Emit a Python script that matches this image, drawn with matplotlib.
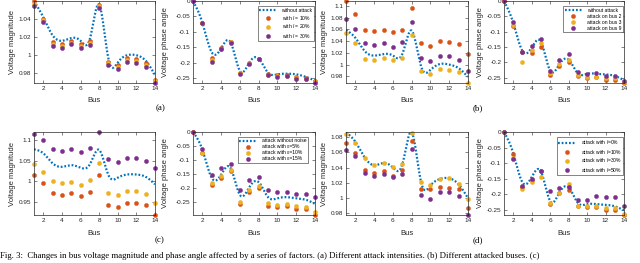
import numpy as np
import matplotlib
matplotlib.use('Agg')
import matplotlib.pyplot as plt
from matplotlib.ticker import FormatStrFormatter

plt.rcParams['axes.unicode_minus'] = False
plt.rcParams['font.family'] = ['Liberation Sans', 'DejaVu Sans']
plt.rcParams['mathtext.fontset'] = 'custom'
plt.rcParams['mathtext.it'] = 'Liberation Sans:italic'
plt.rcParams['mathtext.rm'] = 'Liberation Sans'

buses = list(range(1, 15))
xticks = [2, 4, 6, 8, 10, 12, 14]

# ---------------- (a) attack intensity ----------------
a_mag_base = [1.060, 1.042, 1.022, 1.016, 1.019, 1.016, 1.018, 1.056, 0.996, 0.992, 1.000, 1.000, 0.994, 0.978]
a_mag_l10 = [1.060, 1.0406, 1.015, 1.0124, 1.0154, 1.0124, 1.0154, 1.0556, 0.993, 0.9887, 0.997, 0.996, 0.9916, 0.973]
a_mag_l20 = [1.057, 1.039, 1.0125, 1.010, 1.0138, 1.010, 1.0135, 1.054, 0.991, 0.9865, 0.9947, 0.994, 0.989, 0.971]
a_mag_l30 = [1.0545, 1.0373, 1.0099, 1.0077, 1.0121, 1.008, 1.0113, 1.052, 0.9894, 0.9843, 0.9923, 0.9916, 0.9868, 0.9693]

a_ph_base = [0, -0.070, -0.166, -0.153, -0.133, -0.226, -0.199, -0.186, -0.232, -0.237, -0.235, -0.237, -0.245, -0.257]
a_ph_l10 = [0, -0.071, -0.184, -0.153, -0.131, -0.232, -0.199, -0.186, -0.237, -0.240, -0.240, -0.247, -0.250, -0.259]
a_ph_l20 = [0, -0.071, -0.191, -0.154, -0.133, -0.234, -0.200, -0.187, -0.238, -0.242, -0.241, -0.249, -0.251, -0.262]
a_ph_l30 = [0, -0.071, -0.197, -0.155, -0.135, -0.237, -0.202, -0.189, -0.240, -0.245, -0.243, -0.252, -0.252, -0.265]
a_labels = ['without attack', 'with $l$ = 10%', 'with $l$ = 20%', 'with $l$ = 30%']

# ---------------- (b) attacked bus ----------------
b_mag_base = [1.059, 1.0457, 1.023, 1.0154, 1.018, 1.0154, 1.018, 1.058, 0.997, 0.991, 1.001, 1.000, 0.994, 0.979]
b_mag_bus2 = [1.1086, 1.0869, 1.0589, 1.0571, 1.0589, 1.0554, 1.0583, 1.0971, 1.0371, 1.0326, 1.040, 1.0389, 1.0354, 1.0183]
b_mag_bus3 = [1.0543, 1.0371, 1.0097, 1.0074, 1.0114, 1.0074, 1.0114, 1.0514, 0.9897, 0.9846, 0.992, 0.9914, 0.9869, 0.9686]
b_mag_bus9 = [1.0771, 1.0611, 1.0371, 1.0343, 1.0377, 1.0309, 1.0389, 1.0726, 1.0114, 1.0057, 1.0143, 1.0143, 1.0086, 0.9886]

b_ph_base = [0, -0.071, -0.163, -0.152, -0.133, -0.227, -0.206, -0.191, -0.236, -0.237, -0.237, -0.239, -0.244, -0.258]
b_ph_bus2 = [0, -0.082, -0.166, -0.169, -0.149, -0.241, -0.213, -0.199, -0.244, -0.250, -0.249, -0.256, -0.256, -0.267]
b_ph_bus3 = [0, -0.078, -0.197, -0.161, -0.136, -0.236, -0.206, -0.191, -0.241, -0.247, -0.247, -0.252, -0.252, -0.263]
b_ph_bus9 = [0, -0.067, -0.166, -0.147, -0.124, -0.227, -0.191, -0.174, -0.232, -0.239, -0.236, -0.243, -0.244, -0.260]
b_labels = ['without attack', 'attack on bus 2', 'attack on bus 3', 'attack on bus 9']

# ---------------- (c) noise ----------------
c_mag_base = [1.077, 1.0676, 1.0433, 1.035, 1.039, 1.033, 1.041, 1.0757, 1.015, 1.009, 1.0165, 1.0165, 1.011, 0.993]
c_mag_e5 = [1.0149, 0.9971, 0.9728, 0.9679, 0.9722, 0.9647, 0.9744, 1.0165, 0.9444, 0.9379, 0.9485, 0.9485, 0.9436, 0.9193]
c_mag_e10 = [1.0408, 1.023, 1.0003, 0.9963, 0.9995, 0.9922, 1.0028, 1.0433, 0.9728, 0.9663, 0.976, 0.976, 0.970, 0.9477]
c_mag_e15 = [1.1146, 1.100, 1.0781, 1.074, 1.077, 1.0716, 1.0797, 1.1186, 1.053, 1.0473, 1.0554, 1.0554, 1.0498, 1.0327]

c_ph_base = [0, -0.064, -0.165, -0.153, -0.129, -0.226, -0.198, -0.180, -0.234, -0.238, -0.234, -0.238, -0.243, -0.258]
c_ph_e5 = [0, -0.076, -0.192, -0.164, -0.141, -0.258, -0.216, -0.201, -0.265, -0.271, -0.267, -0.277, -0.277, -0.298]
c_ph_e10 = [0, -0.074, -0.183, -0.158, -0.137, -0.250, -0.208, -0.194, -0.255, -0.261, -0.259, -0.267, -0.268, -0.289]
c_ph_e15 = [0, -0.061, -0.153, -0.131, -0.115, -0.208, -0.171, -0.161, -0.210, -0.216, -0.214, -0.222, -0.222, -0.234]
c_labels = ['attack without noise', 'attack with ε=5%', 'attack with ε=10%', 'attack with ε=15%']

# ---------------- (d) attack proportion ----------------
d_mag_base = [1.086, 1.0736, 1.053, 1.043, 1.046, 1.040, 1.044, 1.086, 1.021, 1.0165, 1.025, 1.026, 1.018, 1.000]
d_mag_l10 = [1.0727, 1.0586, 1.0364, 1.0327, 1.036, 1.0295, 1.0373, 1.075, 1.0123, 1.0114, 1.0145, 1.0136, 1.0123, 0.9873]
d_mag_l30 = [1.084, 1.0727, 1.052, 1.0427, 1.0464, 1.041, 1.045, 1.085, 1.0214, 1.0177, 1.025, 1.026, 1.019, 0.9995]
d_mag_l50 = [1.0632, 1.0555, 1.0327, 1.0295, 1.0314, 1.0282, 1.0314, 1.0645, 1.004, 0.9995, 1.0086, 1.0077, 1.0023, 0.978]

d_ph_base = [0, -0.068, -0.162, -0.145, -0.127, -0.222, -0.195, -0.178, -0.228, -0.232, -0.232, -0.234, -0.239, -0.252]
d_ph_l10 = [0, -0.072, -0.178, -0.156, -0.127, -0.233, -0.195, -0.186, -0.237, -0.242, -0.242, -0.250, -0.250, -0.267]
d_ph_l30 = [0, -0.085, -0.184, -0.160, -0.145, -0.228, -0.195, -0.167, -0.237, -0.239, -0.239, -0.244, -0.244, -0.263]
d_ph_l50 = [0, -0.088, -0.173, -0.151, -0.126, -0.189, -0.180, -0.176, -0.219, -0.220, -0.206, -0.208, -0.208, -0.237]
d_labels = ['attack with $l$=0%', 'attack with $l$=10%', 'attack with $l$=30%', 'attack with $l$=50%']

panel_labels = ['(a)', '(b)', '(c)', '(d)']
caption = ("Fig. 3:  Changes in bus voltage magnitude and phase angle affected by a series of factors. "
           "(a) Different attack intensities. (b) Different attacked buses. (c)")

C_LINE = '#0072BD'
C_MARK = ['#D95319', '#EDB120', '#7E2F8E']


def natural_spline(x, y, n=300):
    x = np.asarray(x, float)
    y = np.asarray(y, float)
    N = len(x)
    h = np.diff(x)
    A = np.zeros((N, N))
    rhs = np.zeros(N)
    A[0, 0] = 1
    A[-1, -1] = 1
    for i in range(1, N - 1):
        A[i, i - 1] = h[i - 1]
        A[i, i] = 2 * (h[i - 1] + h[i])
        A[i, i + 1] = h[i]
        rhs[i] = 3 * ((y[i + 1] - y[i]) / h[i] - (y[i] - y[i - 1]) / h[i - 1])
    c = np.linalg.solve(A, rhs)
    b = (y[1:] - y[:-1]) / h - h * (2 * c[:-1] + c[1:]) / 3
    d = (c[1:] - c[:-1]) / (3 * h)
    xs = np.linspace(x[0], x[-1], n)
    idx = np.clip(np.searchsorted(x, xs, side='right') - 1, 0, N - 2)
    dx = xs - x[idx]
    ys = y[idx] + b[idx] * dx + c[idx] * dx ** 2 + d[idx] * dx ** 3
    return xs, ys


W, H = 640, 263
fig = plt.figure(figsize=(W / 100, H / 100), dpi=100)


def add_ax(l, t, r, b):
    return fig.add_axes([l / W, 1 - b / H, (r - l) / W, (b - t) / H])


def draw(ax, base, series, ylabel, yticks, fmt, labx, legend=None, leg_anchor=None):
    xs, ys = natural_spline(buses, base)
    ax.plot(xs, ys, color=C_LINE, lw=1.6, linestyle=(0, (0.8, 0.85)), dash_capstyle='butt')
    for s, col in zip(series, C_MARK):
        ax.plot(buses, s, linestyle='none', marker='o', ms=3.0, mfc=col, mec=col, mew=0.3,
                clip_on=False)
    ax.margins(x=0, y=0)
    ax.set_xlim(1, 14)
    ax.set_xticks(xticks)
    ax.set_yticks(yticks)
    ax.yaxis.set_major_formatter(FormatStrFormatter(fmt))
    ax.tick_params(direction='in', length=2, width=0.4, labelsize=4.6, colors='#262626', pad=2,
                   top=True, right=True)
    for sp in ax.spines.values():
        sp.set_linewidth(0.5)
        sp.set_color('#262626')
    ax.set_xlabel('Bus', fontsize=5.5, color='#262626')
    ax.xaxis.set_label_coords(0.5, -0.175)
    ax.set_ylabel(ylabel, fontsize=5.5, color='#262626')
    ax.yaxis.set_label_coords(labx, 0.5)
    if legend is not None:
        leg = ax.legend(legend, loc='upper right', bbox_to_anchor=leg_anchor,
                        bbox_transform=fig.transFigure, fontsize=3.6, frameon=True,
                        fancybox=False, edgecolor='#262626', framealpha=1,
                        handlelength=3.5, handletextpad=1.0, labelspacing=0.2,
                        borderpad=0.3, borderaxespad=0, markerscale=1.0, handleheight=0.5)
        leg.get_frame().set_linewidth(0.4)


cols = [(34, 155), (193, 315), (346, 468), (504, 624)]
row1 = (1, 83)
row2 = (132, 215)

mag_ticks_a = [0.98, 1.0, 1.02, 1.04]
ph_ticks = [-0.25, -0.2, -0.15, -0.1, -0.05, 0]

ax = add_ax(cols[0][0], row1[0], cols[0][1], row1[1])
draw(ax, a_mag_base, [a_mag_l10, a_mag_l20, a_mag_l30], 'Voltage magnitude',
     mag_ticks_a, '%g', -0.15)
ax = add_ax(cols[1][0], row1[0], cols[1][1], row1[1])
draw(ax, a_ph_base, [a_ph_l10, a_ph_l20, a_ph_l30], 'Voltage phase angle', ph_ticks, '%g', -0.2,
     a_labels, (314 / W, 1 - 6 / H))
ax = add_ax(cols[2][0], row1[0], cols[2][1], row1[1])
draw(ax, b_mag_base, [b_mag_bus2, b_mag_bus3, b_mag_bus9], 'Voltage magnitude',
     [0.98, 1.0, 1.02, 1.04, 1.06, 1.08, 1.1], '%g', -0.15)
ax = add_ax(cols[3][0], row1[0], cols[3][1], row1[1])
draw(ax, b_ph_base, [b_ph_bus2, b_ph_bus3, b_ph_bus9], 'Voltage phase angle', ph_ticks, '%g', -0.17,
     b_labels, (623 / W, 1 - 6 / H))

ax = add_ax(cols[0][0], row2[0], cols[0][1], row2[1])
draw(ax, c_mag_base, [c_mag_e5, c_mag_e10, c_mag_e15], 'Voltage magnitude',
     [0.95, 1.0, 1.05, 1.1], '%g', -0.15)
ax = add_ax(cols[1][0], row2[0], cols[1][1], row2[1])
draw(ax, c_ph_base, [c_ph_e5, c_ph_e10, c_ph_e15], 'Voltage phase angle', ph_ticks, '%g', -0.2,
     c_labels, (308 / W, 1 - 137 / H))
ax = add_ax(cols[2][0], row2[0], cols[2][1], row2[1])
draw(ax, d_mag_base, [d_mag_l10, d_mag_l30, d_mag_l50], 'Voltage magnitude',
     [0.98, 1.0, 1.02, 1.04, 1.06, 1.08], '%g', -0.15)
ax = add_ax(cols[3][0], row2[0], cols[3][1], row2[1])
draw(ax, d_ph_base, [d_ph_l10, d_ph_l30, d_ph_l50], 'Voltage phase angle', ph_ticks, '%g', -0.17,
     d_labels, (623 / W, 1 - 137 / H))

serif = ['Liberation Serif', 'DejaVu Serif']
for lab, (px, py) in zip(panel_labels, [(161, 108), (478, 108), (160, 240), (478, 240)]):
    fig.text(px / W, 1 - py / H, lab, ha='center', va='center', fontsize=6.5, family=serif)
fig.text(0 / W, 1 - 256 / H, caption, ha='left', va='center', fontsize=6.3, family=serif)

fig.savefig('out.png', dpi=100)
